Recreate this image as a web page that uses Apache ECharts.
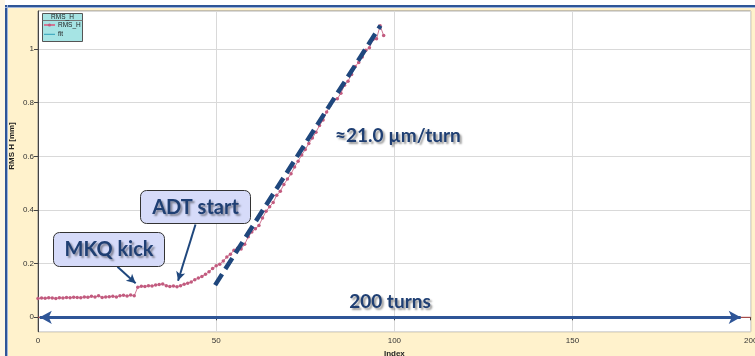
<!DOCTYPE html>
<html><head><meta charset="utf-8">
<script src="https://cdn.jsdelivr.net/npm/echarts@6/dist/echarts.min.js"></script>
<style>html,body{margin:0;padding:0;background:#fff;overflow:hidden}#c{width:755px;height:356px}</style>
</head><body><div id="c"></div>
<script>
var indices = [0,1,2,3,4,5,6,7,8,9,10,11,12,13,14,15,16,17,18,19,20,21,22,23,24,25,26,27,28,29,30,31,32,33,34,35,36,37,38,39,40,41,42,43,44,45,46,47,48,49,50,51,52,53,54,55,56,57,58,59,60,61,62,63,64,65,66,67,68,69,70,71,72,73,74,75,76,77,78,79,80,81,82,83,84,85,86,87,88,89,90,91,92,93,94,95,96,97];
var rmsH = [0.070,0.072,0.071,0.073,0.072,0.070,0.073,0.072,0.074,0.073,0.075,0.074,0.073,0.076,0.075,0.078,0.076,0.080,0.074,0.076,0.077,0.078,0.076,0.080,0.082,0.079,0.083,0.080,
0.112,0.116,0.115,0.118,0.117,0.120,0.122,0.124,0.118,0.115,0.117,0.114,0.118,0.123,0.127,0.132,0.140,0.146,0.152,0.160,0.170,0.182,0.192,0.198,0.210,0.225,0.235,0.250,0.257,0.255,0.272,0.300,
0.318,0.330,0.342,0.370,0.395,0.412,0.428,0.455,0.470,0.495,0.515,0.535,0.560,0.582,0.605,0.625,0.648,0.668,0.690,0.715,0.735,0.765,0.790,0.810,0.815,0.835,0.865,0.880,0.905,0.935,0.950,0.970,0.995,1.005,1.035,1.038,1.087,1.050];
var slopeX = [49.7, 96.1];
var slopeY = [0.12, 1.087];
var zeroX = [0, 200];
var zeroY = [0, 0];
var spanArrow = [0.5, 197.2];
var mkqArrow = [[22.3, 0.188], [27.4, 0.127]];
var adtArrow = [[44.2, 0.346], [39.3, 0.136]];

var navy = '#1f3f73';
var tickFont = {fontFamily: 'Liberation Sans', fontSize: 8, color: '#333'};
var shadowTxt = {textShadowColor: 'rgba(0,0,0,0.4)', textShadowBlur: 2, textShadowOffsetX: 2, textShadowOffsetY: 2};

var chart = echarts.init(document.getElementById('c'), null, {renderer: 'canvas'});
function pairs(xs, ys){ return xs.map(function(x,i){ return [x, ys[i]]; }); }

var option = {
  backgroundColor: '#FFF2CC',
  animation: false,
  grid: {left: 38, right: 4.3, top: 11, bottom: 24.3, show: true, backgroundColor: '#fff', borderColor: '#8a8a8a', borderWidth: 1, containLabel: false, outerBoundsMode: 'none'},
  xAxis: {
    type: 'value', min: 0, max: 200, interval: 50,
    name: 'Index', nameLocation: 'middle', nameGap: 15,
    nameTextStyle: {fontFamily: 'Liberation Sans', fontSize: 8, fontWeight: 'bold', color: '#222'},
    axisLine: {show: true, lineStyle: {color: '#444', width: 1}},
    axisTick: {show: true, length: 3, lineStyle: {color: '#444'}},
    axisLabel: Object.assign({margin: 5}, tickFont),
    splitLine: {show: true, lineStyle: {color: '#d9d9d9', width: 1}}
  },
  yAxis: {
    type: 'value', min: -0.0537, max: 1.1416,
    axisLine: {show: true, lineStyle: {color: '#444', width: 1}},
    axisTick: {show: true, length: 4, lineStyle: {color: '#444'}},
    axisLabel: Object.assign({margin: 4, showMinLabel: false, showMaxLabel: false}, tickFont),
    splitLine: {show: true, lineStyle: {color: '#d9d9d9', width: 1}}
  },
  legend: {
    orient: 'vertical', left: 43, top: 21, itemGap: 1.3, itemWidth: 11, itemHeight: 4, z: 10,
    data: [{name: 'RMS_H'}, {name: 'fit', itemStyle: {color: 'transparent', borderWidth: 0}, lineStyle: {color: '#2f9fb8', width: 1}}],
    textStyle: {fontFamily: 'Liberation Sans', fontSize: 6.5, color: '#222', lineHeight: 8, padding: [0, 0, 0, -2]},
    padding: 0
  },
  graphic: [
    {type: 'rect', shape: {x: 0, y: 0, width: 755, height: 5}, style: {fill: '#fff'}, silent: true},
    {type: 'rect', shape: {x: 0, y: 0, width: 5, height: 356}, style: {fill: '#fdf6e4'}, silent: true},
    {type: 'rect', shape: {x: 5, y: 5, width: 750, height: 2}, style: {fill: '#2e5597'}, silent: true},
    {type: 'rect', shape: {x: 5, y: 5, width: 2, height: 351}, style: {fill: '#2e5597'}, silent: true},
    {type: 'rect', shape: {x: 5, y: 7, width: 750, height: 1}, style: {fill: '#9fb6dc'}, silent: true},
    {type: 'rect', shape: {x: 7, y: 5, width: 1, height: 351}, style: {fill: '#9fb6dc'}, silent: true},
    {type: 'rect', z: 3, shape: {x: 42.5, y: 13.5, width: 40, height: 28}, style: {fill: '#a6e4e4', stroke: '#555', lineWidth: 1}, silent: true},
    {type: 'line', z: 3, shape: {x1: 42.5, y1: 20.5, x2: 82.5, y2: 20.5}, style: {stroke: '#777', lineWidth: 1}, silent: true},
    {type: 'text', z: 4, style: {x: 62.5, y: 17.3, text: 'RMS_H', fontFamily: 'Liberation Sans', fontSize: 6.5, fill: '#222', align: 'center', verticalAlign: 'middle'}, silent: true},
    {type: 'text', z: 4, rotation: Math.PI / 2, x: 12, y: 146, style: {x: 0, y: 0, text: 'RMS H [mm]', fontFamily: 'Liberation Sans', fontSize: 8, fontWeight: 'bold', fill: '#222', align: 'center', verticalAlign: 'middle'}, silent: true},
    {type: 'rect', z: 20, shape: {x: 53.5, y: 232.5, width: 111, height: 34, r: 6}, style: {fill: '#d6dbf9', stroke: '#333', lineWidth: 1}, silent: true},
    {type: 'text', z: 21, style: Object.assign({x: 109, y: 250, text: 'MKQ kick', fontFamily: 'Lato', fontSize: 20, fontWeight: 'bold', fill: navy, align: 'center', verticalAlign: 'middle'}, shadowTxt), silent: true},
    {type: 'rect', z: 20, shape: {x: 140.5, y: 190.5, width: 110, height: 33, r: 6}, style: {fill: '#d6dbf9', stroke: '#333', lineWidth: 1}, silent: true},
    {type: 'text', z: 21, style: Object.assign({x: 195.5, y: 207.5, text: 'ADT start', fontFamily: 'Lato', fontSize: 20, fontWeight: 'bold', fill: navy, align: 'center', verticalAlign: 'middle'}, shadowTxt), silent: true},
    {type: 'text', z: 21, style: Object.assign({x: 335, y: 136, text: '\u224821.0 \u00b5m/turn', fontFamily: 'Lato', fontSize: 19, fontWeight: 'bold', fill: navy, align: 'left', verticalAlign: 'middle'}, shadowTxt), silent: true},
    {type: 'text', z: 21, style: Object.assign({x: 390, y: 302, text: '200 turns', fontFamily: 'Lato', fontSize: 19, fontWeight: 'bold', fill: navy, align: 'center', verticalAlign: 'middle'}, shadowTxt), silent: true}
  ],
  series: [
    {
      name: 'zero', type: 'line', data: pairs(zeroX, zeroY), symbol: 'none', silent: true,
      lineStyle: {color: '#c0504d', width: 1}, z: 2
    },
    {
      name: 'RMS_H', type: 'line', data: pairs(indices, rmsH),
      symbol: 'circle', symbolSize: 3.5, showSymbol: true,
      itemStyle: {color: '#c25b7f'}, lineStyle: {color: '#cf7894', width: 1}, z: 3
    },
    {
      name: 'fit', type: 'line', data: [], symbol: 'none',
      itemStyle: {color: '#2f9fb8'}, lineStyle: {color: '#2f9fb8', width: 1}
    },
    {
      name: 'slope', type: 'line', data: pairs(slopeX, slopeY), symbol: 'none', silent: true,
      lineStyle: {color: '#1f477d', width: 4.5, type: [13, 6]}, z: 5
    },
    {
      name: 'arrows', type: 'line', data: [], silent: true,
      markLine: {
        silent: true, animation: false, symbol: ['none', 'arrow'], symbolSize: [7, 9],
        label: {show: false},
        data: [
          [{coord: mkqArrow[0], lineStyle: {color: '#1f477d', width: 2, type: 'solid'}}, {coord: mkqArrow[1]}],
          [{coord: adtArrow[0], lineStyle: {color: '#1f477d', width: 2, type: 'solid'}}, {coord: adtArrow[1]}],
          [{coord: [spanArrow[0], 0], symbol: 'arrow', symbolSize: [10, 12], lineStyle: {color: '#2e5597', width: 3, type: 'solid'}}, {coord: [spanArrow[1], 0], symbol: 'arrow', symbolSize: [10, 12]}]
        ]
      },
      z: 6
    }
  ]
};
chart.setOption(option);
</script></body></html>
